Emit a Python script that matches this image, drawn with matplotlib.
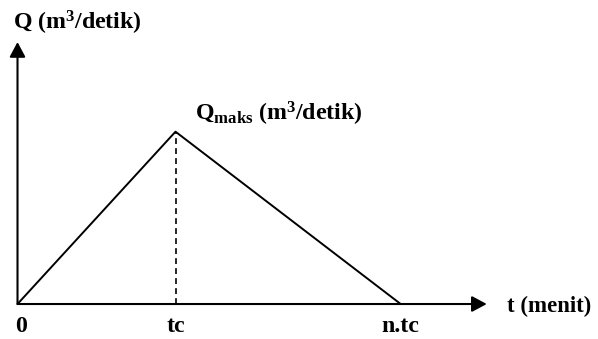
import matplotlib
matplotlib.use("Agg")
import matplotlib.pyplot as plt

# hidrograf satuan segitiga (rasional)
t_points = [0.0, 1.0, 2.425]      # 0, tc, n.tc
q_points = [0.0, 1.0, 0.0]        # Q naik ke Qmaks lalu turun
tick_labels = ["0", "tc", "n.tc"]
q_max = 1.0
t_peak = 1.0

plt.rcParams['font.family'] = 'Liberation Serif'
plt.rcParams['font.weight'] = 'bold'
plt.rcParams['mathtext.fontset'] = 'custom'
plt.rcParams['mathtext.rm'] = 'Liberation Serif:bold'
plt.rcParams['mathtext.bf'] = 'Liberation Serif:bold'
plt.rcParams['mathtext.default'] = 'rm'

fig = plt.figure(figsize=(5.98, 3.39), dpi=100)
ax = fig.add_axes([0, 0, 1, 1])
ax.set_xlim(-0.1108, 3.674)
ax.set_ylim(-0.203, 1.764)
ax.axis('off')

fs = 17.2
arrow = dict(arrowstyle='-|>,head_length=0.75,head_width=0.4', color='black',
             lw=1.5, mutation_scale=12, shrinkA=0, shrinkB=0)

# sumbu
ax.annotate('', xy=(2.97, 0), xytext=(0, 0), arrowprops=arrow)
ax.annotate('', xy=(0, 1.52), xytext=(0, 0), arrowprops=arrow)

# segitiga
ax.plot(t_points, q_points, color='black', lw=1.4, solid_capstyle='butt')
ax.plot([t_peak, t_peak], [0, q_max], color='black', lw=1.2, linestyle=(0, (3.5, 2.5)))

# teks
ax.text(-0.028, 1.59, 'Q (m$^{3}$/detik)', fontsize=fs, ha='left', va='baseline')
ax.text(1.123, 1.064, 'Q$_{\\mathrm{maks}}$ (m$^{3}$/detik)', fontsize=fs, ha='left', va='baseline')
ax.text(3.096, -0.045, 't (menit)', fontsize=16.4, ha='left', va='baseline')

for x, lab in zip(t_points, tick_labels):
    ax.text(x + (0.02 if lab == "0" else 0), -0.161, lab, fontsize=fs, ha='center', va='baseline')

fig.savefig('out.png', dpi=100)
